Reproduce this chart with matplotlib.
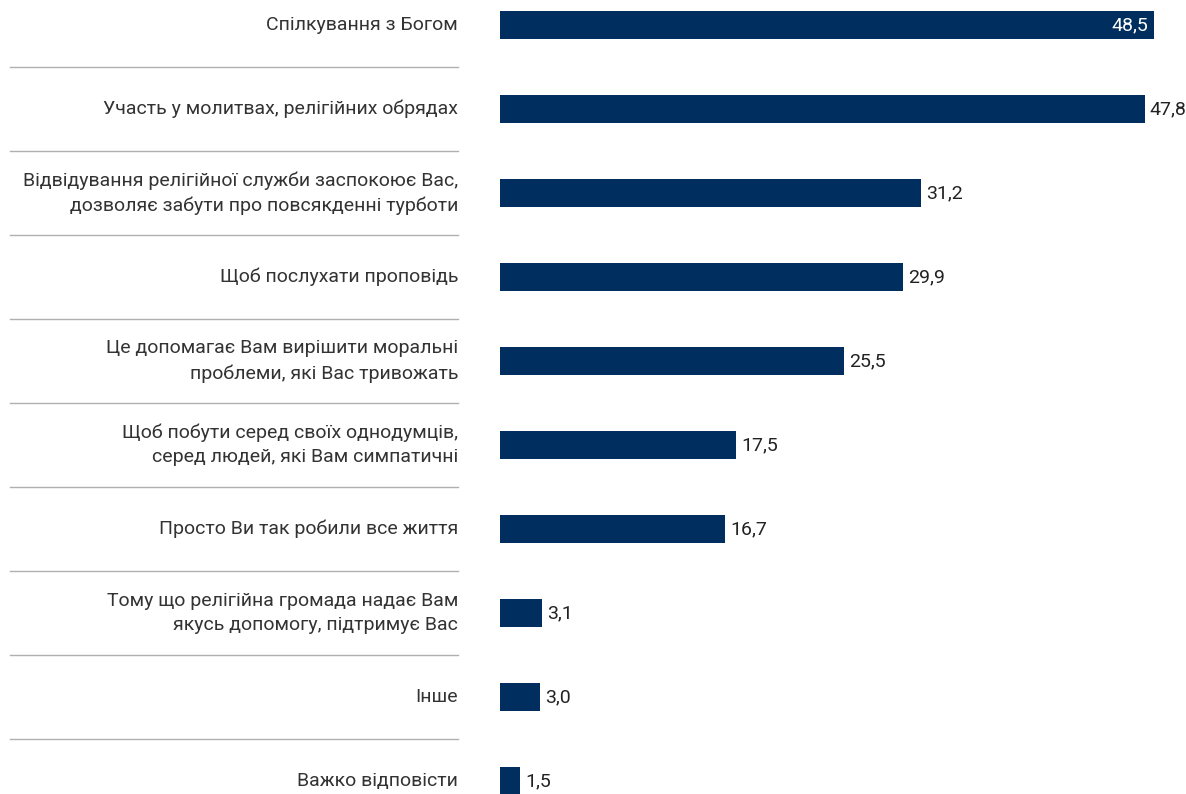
import matplotlib.pyplot as plt
from matplotlib.transforms import blended_transform_factory

labels = [
    "Спілкування з Богом",
    "Участь у молитвах, релігійних обрядах",
    "Відвідування релігійної служби заспокоює Вас,\nдозволяє забути про повсякденні турботи",
    "Щоб послухати проповідь",
    "Це допомагає Вам вирішити моральні\nпроблеми, які Вас тривожать",
    "Щоб побути серед своїх однодумців,\nсеред людей, які Вам симпатичні",
    "Просто Ви так робили все життя",
    "Тому що релігійна громада надає Вам\nякусь допомогу, підтримує Вас",
    "Інше",
    "Важко відповісти",
]
values = [48.5, 47.8, 31.2, 29.9, 25.5, 17.5, 16.7, 3.1, 3.0, 1.5]

plt.rcParams['font.family'] = ['Liberation Sans Narrow', 'Roboto', 'DejaVu Sans']
navy = '#002f5f'

W, H = 1186, 794
fig = plt.figure(figsize=(W / 100, H / 100), dpi=100)
x0 = 500
ax = fig.add_axes([x0 / W, 0, 1 - x0 / W, 1])
scale = 13.49  # px per unit
ax.set_xlim(0, (W - x0) / scale)
pitch = 84
ax.set_ylim((H - 25) / pitch, -25 / pitch)
ax.axis('off')

ypos = list(range(len(values)))
ax.barh(ypos, values, height=28 / pitch, color=navy)

fs = 14
for y, v in zip(ypos, values):
    txt = f"{v:.1f}".replace('.', ',')
    if v > 48:
        ax.text(v - 6 / scale, y, txt, color='white', ha='right', va='center', fontsize=fs)
    else:
        ax.text(v + 5 / scale, y, txt, color='#222222', ha='left', va='center', fontsize=fs)

tr = blended_transform_factory(fig.transFigure, ax.transData)
for y, lab in zip(ypos, labels):
    ax.text(458 / W, y, lab, transform=tr, ha='right', va='center', fontsize=fs,
            color='#333333', linespacing=1.45, clip_on=False)
for y in ypos[:-1]:
    ax.plot([10 / W, 458 / W], [y + 0.5, y + 0.5], transform=tr, color='#b0b0b0',
            lw=1, clip_on=False)

fig.savefig('out.png', dpi=100)
